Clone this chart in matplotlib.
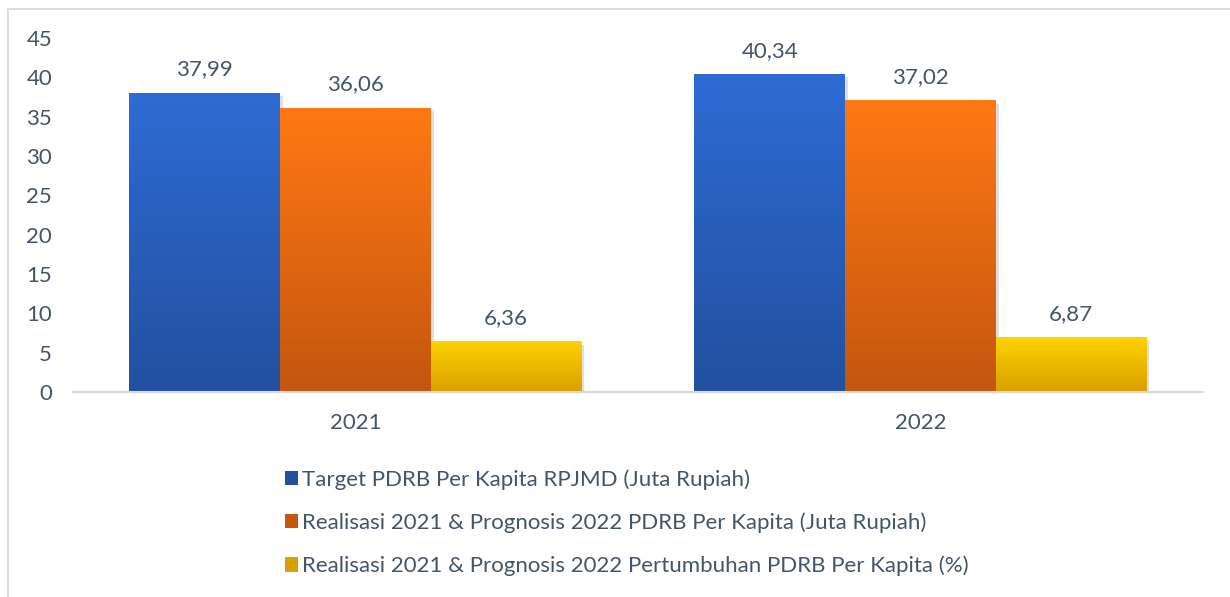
import numpy as np
import matplotlib.pyplot as plt
from matplotlib.colors import LinearSegmentedColormap
from matplotlib.patches import Rectangle, Patch
import matplotlib.patheffects as pe

plt.rcParams['font.family'] = ['Lato', 'DejaVu Sans']

years = ['2021', '2022']
series = [
    'Target PDRB Per Kapita RPJMD (Juta Rupiah)',
    'Realisasi 2021 & Prognosis 2022 PDRB Per Kapita (Juta Rupiah)',
    'Realisasi 2021 & Prognosis 2022 Pertumbuhan PDRB Per Kapita (%)',
]
target = [37.99, 40.34]
realisasi = [36.06, 37.02]
pertumbuhan = [6.36, 6.87]
labels = [['37,99', '40,34'], ['36,06', '37,02'], ['6,36', '6,87']]

# top / bottom colors of each gradient
grad = [('#2e6bd3', '#2350a0'), ('#ff7814', '#c4560f'), ('#ffd200', '#d9a000')]
text_col = '#44546a'

fig = plt.figure(figsize=(12.3, 5.97), dpi=100)
ax = fig.add_axes([0.0593, 0.3434, 0.9187, 0.5929])

x = np.arange(len(years))
w = 0.8 / 3
for i, vals in enumerate([target, realisasi, pertumbuhan]):
    bars = ax.bar(x + (i - 1) * w, vals, w, color='none', label=series[i])
    cmap = LinearSegmentedColormap.from_list('g%d' % i, [grad[i][1], grad[i][0]])
    for b, lab in zip(bars, labels[i]):
        x0, y0 = b.get_x(), b.get_y()
        bw, bh = b.get_width(), b.get_height()
        sh = Rectangle((x0, y0), bw, bh, facecolor='white', edgecolor='none', zorder=1.5,
                       path_effects=[pe.SimplePatchShadow(offset=(2, -2), alpha=0.25, shadow_rgbFace='#808080')])
        ax.add_patch(sh)
        ax.imshow(np.linspace(0, 1, 100).reshape(-1, 1), cmap=cmap, origin='lower', aspect='auto',
                  extent=[x0, x0 + bw, y0, y0 + bh], zorder=2)
        ax.annotate(lab, (x0 + bw / 2, bh), xytext=(0, 10), textcoords='offset points',
                    ha='center', va='bottom', fontsize=16, color=text_col)

ax.set_xlim(-0.5, 1.5)
ax.set_ylim(0, 45)
ax.set_yticks(range(0, 46, 5))
ax.set_xticks(x)
ax.set_xticklabels(years)
ax.tick_params(axis='y', length=0, pad=15, labelsize=16, labelcolor=text_col)
ax.tick_params(axis='x', length=0, pad=15, labelsize=16, labelcolor=text_col)
for s in ['top', 'right', 'left']:
    ax.spines[s].set_visible(False)
ax.spines['bottom'].set_color('#d9d9d9')
ax.spines['bottom'].set_linewidth(1.5)
ax.spines['bottom'].set_zorder(3)

handles = [Patch(facecolor=grad[i][1], edgecolor='none') for i in range(3)]
fig.legend(handles, series, loc='upper left', bbox_to_anchor=(0.2245, 0.229), frameon=False,
           fontsize=16, labelcolor=text_col, handlelength=0.6, handleheight=0.6,
           handletextpad=0.15, labelspacing=1.02, borderaxespad=0)

fig.patches.append(Rectangle((8 / 1230, -0.02), 1.05, 1 - 9 / 597 + 0.02, transform=fig.transFigure,
                             facecolor='none', edgecolor='#d9dde3', linewidth=1.5))

fig.savefig('out.png', dpi=100)
